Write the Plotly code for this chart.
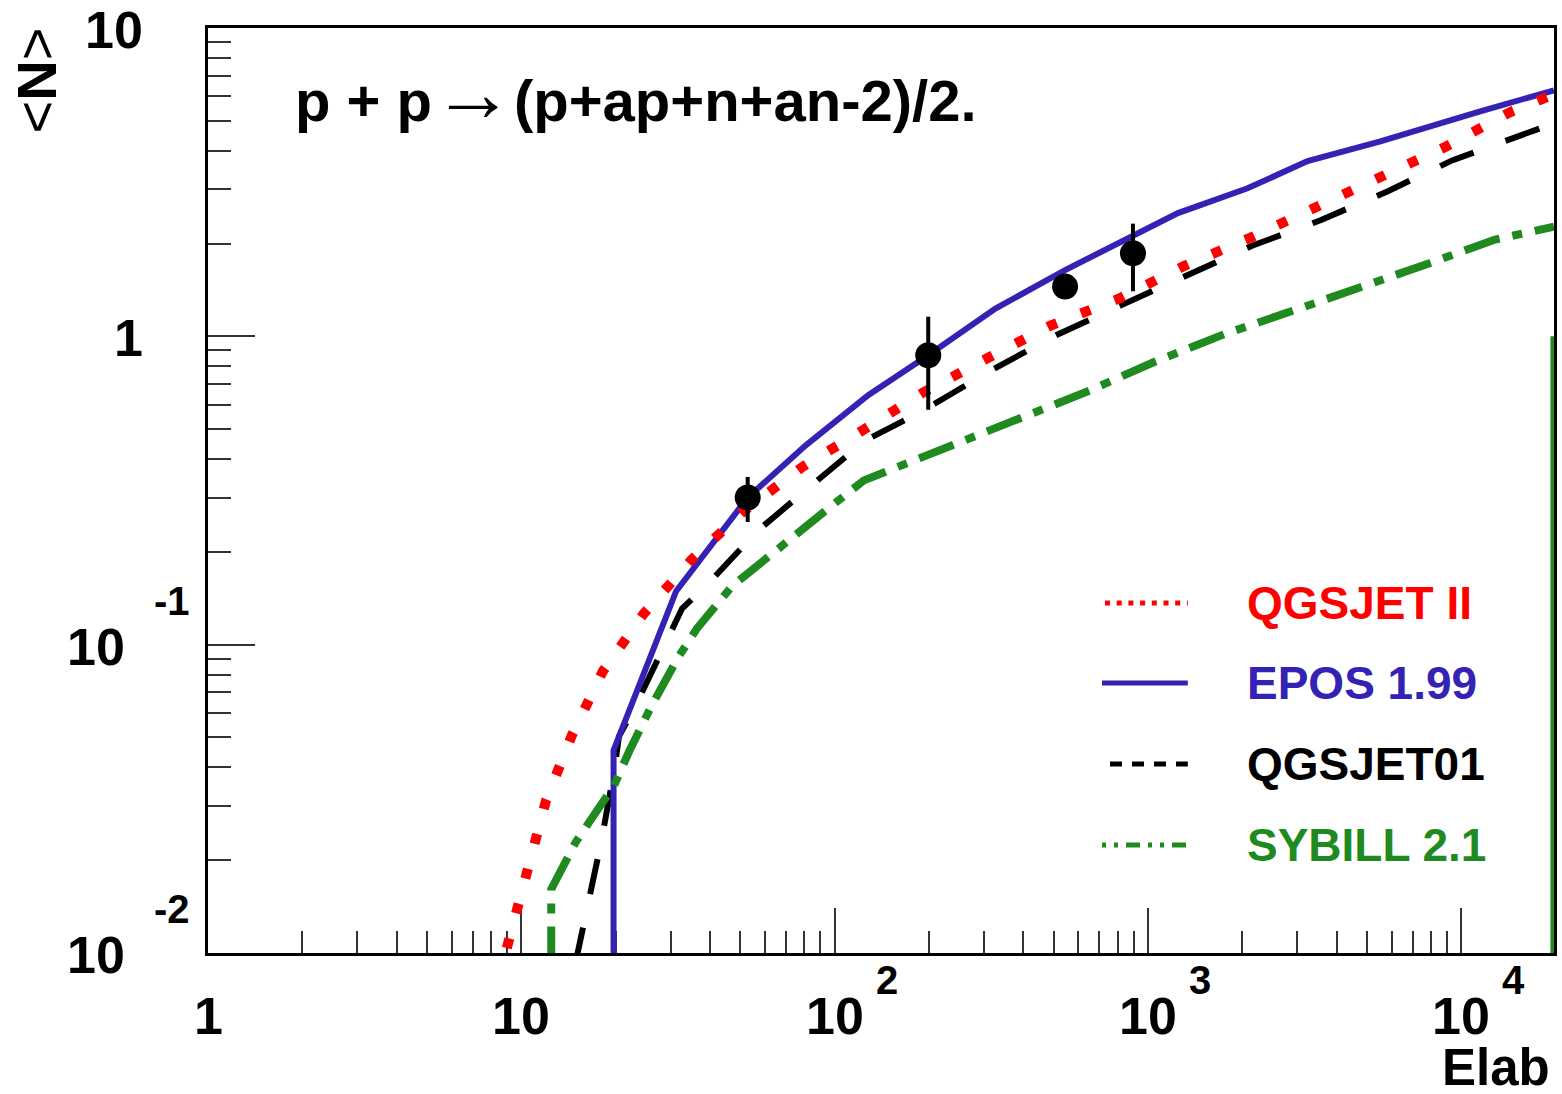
import math
import plotly.graph_objects as go

# ---------------- data ----------------
qgs2_E = [8.4, 9.16, 10.45, 12.0, 14.5, 18.2, 24.6, 35.0, 51.3, 78.6, 123, 192, 307, 491, 815,
          1302, 2128, 3402, 5520, 8960, 14300, 19770]
qgs2_N = [0.008, 0.0113, 0.0188, 0.0313, 0.0508, 0.0819, 0.126, 0.189, 0.271, 0.376, 0.496, 0.658,
          0.849, 1.086, 1.33, 1.69, 2.09, 2.62, 3.30, 4.13, 5.33, 6.09]

epos_E = [19.7, 19.7, 22.9, 31.2, 52.8, 80.9, 128, 199, 326, 544, 1247, 2080, 3233, 5520, 11500, 19770]
epos_N = [0.005, 0.0454, 0.067, 0.149, 0.30, 0.443, 0.644, 0.868, 1.23, 1.64, 2.51, 3.02, 3.70, 4.29,
          5.37, 6.28]

qgs1_E = [14.9, 16.2, 18.0, 19.8, 20.5, 23.2, 28.9, 32.6, 39.1, 56.5, 84.5, 125.5, 160, 202, 316, 509,
          820, 1340, 2160, 3556, 5810, 9350, 15400, 19770]
qgs1_N = [0.0093, 0.01374, 0.0230, 0.0391, 0.0504, 0.0636, 0.1025, 0.131, 0.156, 0.233, 0.329, 0.460,
          0.522, 0.593, 0.776, 1.008, 1.26, 1.58, 1.97, 2.38, 2.95, 3.72, 4.49, 4.91]

syb_E = [12.46, 12.46, 14.96, 19.8, 22.1, 26.1, 31.8, 36.4, 47.0, 63.0, 95.6, 124, 148.6, 243, 400, 654,
         1060, 1771, 2897, 4732, 7962, 12830, 19770]
syb_N = [0.00925, 0.0161, 0.0230, 0.0350, 0.0451, 0.0636, 0.0916, 0.113, 0.1546, 0.198, 0.277, 0.341,
         0.367, 0.443, 0.542, 0.668, 0.830, 1.02, 1.21, 1.45, 1.73, 2.06, 2.27]
syb_edge_E = [19770, 19770]
syb_edge_N = [1.0, 0.005]

data_E = [52.8, 199, 544, 896]
data_N = [0.30, 0.868, 1.45, 1.86]
data_err = [0.05, 0.29, 0.12, 0.46]

legend_names = ["QGSJET II", "EPOS 1.99", "QGSJET01", "SYBILL 2.1"]

x_major_vals = [1, 10, 100, 1000, 10000]
x_major_base = ["1", "10", "10", "10", "10"]
x_major_exp = ["", "", "2", "3", "4"]
y_major_vals = [10, 1, 0.1, 0.01]
y_major_base = ["10", "1", "10", "10"]
y_major_exp = ["", "", "-1", "-2"]

# ---------------- style ----------------
RED = "#ff0000"
BLUE = "#3322b4"
BLACK = "#000000"
GREEN = "#1f8a1f"
FONT = "Liberation Sans, Arial, Helvetica, sans-serif"

W, H = 1562, 1094
L, R, T, B = 208, 1557, 28, 953


def pxx(xp):
    return (xp - L) / (R - L)


def pxy(yp):
    return (B - yp) / (B - T)


fig = go.Figure()

fig.add_trace(go.Scatter(x=qgs1_E, y=qgs1_N, mode="lines",
                         line=dict(color=BLACK, width=6, dash="36px,34px"), name=legend_names[2]))
fig.add_trace(go.Scatter(x=epos_E, y=epos_N, mode="lines",
                         line=dict(color=BLUE, width=6), name=legend_names[1]))
fig.add_trace(go.Scatter(x=qgs2_E, y=qgs2_N, mode="lines",
                         line=dict(color=RED, width=10, dash="10px,26px"), name=legend_names[0]))
fig.add_trace(go.Scatter(x=syb_E, y=syb_N, mode="lines",
                         line=dict(color=GREEN, width=8, dash="37px,13px,10px,13px"), name=legend_names[3]))
fig.add_trace(go.Scatter(x=syb_edge_E, y=syb_edge_N, mode="lines",
                         line=dict(color=GREEN, width=7), showlegend=False))
fig.add_trace(go.Scatter(x=data_E, y=data_N, mode="markers",
                         marker=dict(color=BLACK, size=26, symbol="circle"),
                         error_y=dict(type="data", array=data_err, visible=True,
                                      color=BLACK, thickness=4, width=0),
                         showlegend=False))

x_minor = [m * d for d in [1, 10, 100, 1000] for m in range(2, 10)]
y_minor = [m * d for d in [0.01, 0.1, 1] for m in range(2, 10)]

fig.update_xaxes(type="log", range=[0, (R - L) / 314.0], showgrid=False, zeroline=False,
                 showline=True, linecolor="#000", linewidth=3, mirror=True,
                 ticks="inside", tickmode="array", tickvals=x_major_vals[1:], ticklen=45,
                 tickwidth=2, tickcolor="#333", showticklabels=False, layer="below traces",
                 minor=dict(tickmode="array", tickvals=x_minor, ticks="inside", ticklen=22,
                            tickwidth=2, tickcolor="#333", showgrid=False))
fig.update_yaxes(type="log", range=[-2, 1], showgrid=False, zeroline=False,
                 showline=True, linecolor="#000", linewidth=3, mirror=True,
                 ticks="inside", tickmode="array", tickvals=[1, 0.1], ticklen=47,
                 tickwidth=2, tickcolor="#333", showticklabels=False, layer="below traces",
                 minor=dict(tickmode="array", tickvals=y_minor, ticks="inside", ticklen=23,
                            tickwidth=2, tickcolor="#333", showgrid=False))

ann = []
# y tick labels
for v, b, e in zip(y_major_vals, y_major_base, y_major_exp):
    if e:
        ann.append(dict(xref="paper", yref="y", x=0, y=math.log10(v), xanchor="right", yanchor="middle",
                        xshift=-81, yshift=-2, text="<b>%s</b>" % b, showarrow=False,
                        font=dict(family=FONT, size=52, color="#000")))
        ann.append(dict(xref="paper", yref="y", x=0, y=math.log10(v), xanchor="left", yanchor="middle",
                        xshift=-56, yshift=44, text="<b>%s</b>" % e, showarrow=False,
                        font=dict(family=FONT, size=40, color="#000")))
    else:
        ann.append(dict(xref="paper", yref="y", x=0, y=math.log10(v), xanchor="right", yanchor="middle",
                        xshift=-63, yshift=-2, text="<b>%s</b>" % b, showarrow=False,
                        font=dict(family=FONT, size=52, color="#000")))
# x tick labels
for v, b, e in zip(x_major_vals, x_major_base, x_major_exp):
    ann.append(dict(xref="x", yref="paper", x=math.log10(v), y=0, xanchor="center", yanchor="middle",
                    yshift=-63, text="<b>%s</b>" % b, showarrow=False,
                    font=dict(family=FONT, size=52, color="#000")))
    if e:
        ann.append(dict(xref="x", yref="paper", x=math.log10(v), y=0, xanchor="center", yanchor="middle",
                        xshift=52, yshift=-27, text="<b>%s</b>" % e, showarrow=False,
                        font=dict(family=FONT, size=40, color="#000")))

# axis titles
ann.append(dict(xref="paper", yref="paper", x=1, y=0, xanchor="right", yanchor="middle",
                xshift=-2, yshift=-114, height=40, text="<b>Elab</b>", showarrow=False,
                font=dict(family=FONT, size=51, color="#000")))
ann.append(dict(xref="paper", yref="paper", x=pxx(37), y=pxy(80), xanchor="center", yanchor="middle",
                textangle=-90, text="&lt;<b>N</b>&gt;", showarrow=False,
                font=dict(family=FONT, size=56, color="#000")))
# process label
ann.append(dict(xref="paper", yref="paper", x=pxx(293), y=pxy(93), xanchor="left", yanchor="middle",
                text="<b>p + p</b><span style='font-size:82px'>→</span><b>(p+ap+n+an-2)/2.</b>",
                showarrow=False, font=dict(family=FONT, size=58, color="#000")))

# legend
leg_colors = [RED, BLUE, BLACK, GREEN]
leg_y = [603, 683, 764, 845]
leg_x0 = [1107, 1104, 1112, 1104]
leg_dash = ["5px,6.7px", "solid", "12px,10px", "4px,8px,4px,8px,14px,8px"]
leg_w = [5, 5, 5, 5]
shapes = []
for name, c, yy, x0, d, w in zip(legend_names, leg_colors, leg_y, leg_x0, leg_dash, leg_w):
    shapes.append(dict(type="line", xref="paper", yref="paper", x0=pxx(x0), x1=pxx(1190),
                       y0=pxy(yy), y1=pxy(yy), line=dict(color=c, width=w, dash=d)))
    ann.append(dict(xref="paper", yref="paper", x=pxx(1247), y=pxy(yy), xanchor="left", yanchor="middle",
                    text="<b>%s</b>" % name, showarrow=False,
                    font=dict(family=FONT, size=46, color=c)))

fig.update_layout(width=W, height=H, margin=dict(l=L, r=W - R, t=T, b=H - B),
                  paper_bgcolor="white", plot_bgcolor="white", showlegend=False,
                  annotations=ann, shapes=shapes)

fig.write_html("out.html")
